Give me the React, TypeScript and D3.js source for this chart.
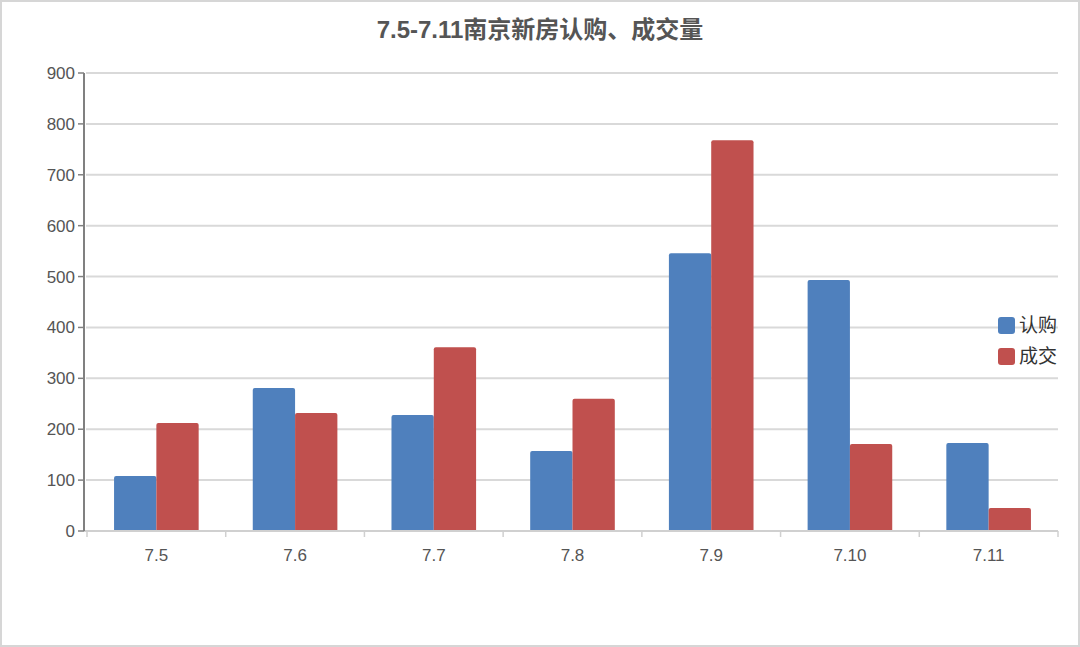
import React from 'react';
import * as d3 from 'd3';

const days: string[] = ['7.5', '7.6', '7.7', '7.8', '7.9', '7.10', '7.11'];
const subscribed: number[] = [108, 281, 228, 157, 546, 493, 173];
const closed: number[] = [212, 232, 361, 260, 768, 171, 45];
const seriesNames: string[] = ['认购', '成交'];
const seriesColors: string[] = ['#4f80bd', '#c0504e'];
const yTicks: number[] = [0, 100, 200, 300, 400, 500, 600, 700, 800, 900];

const W = 1080;
const H = 647;
const margin = { top: 73, right: 22, bottom: 116, left: 87 };
const font = '"Liberation Sans", "Noto Sans CJK SC", sans-serif';

// bar with slightly rounded top corners
function barPath(x: number, y: number, w: number, h: number, r: number) {
  const rr = Math.min(r, h / 2, w / 2);
  return `M${x},${y + h}V${y + rr}Q${x},${y} ${x + rr},${y}H${x + w - rr}Q${x + w},${y} ${x + w},${y + rr}V${y + h}Z`;
}

export default function App() {
  const innerW = W - margin.left - margin.right;
  const innerH = H - margin.top - margin.bottom;
  const x0 = margin.left;
  const yBase = margin.top + innerH;

  const xScale = d3.scaleBand<string>().domain(days).range([x0, x0 + innerW]).paddingInner(0.39).paddingOuter(0.195);
  const xSub = d3.scaleBand<number>().domain([0, 1]).range([0, xScale.bandwidth()]);
  const yScale = d3.scaleLinear().domain([0, 900]).range([yBase, margin.top]);
  const step = xScale.step();
  const series = [subscribed, closed];

  return (
    <svg width={W} height={H} style={{ position: 'absolute', left: 0, top: 0, display: 'block', background: '#fff' }}>
      <rect x={1} y={1} width={W - 2} height={H - 2} fill="#fff" stroke="#d6d6d6" strokeWidth={2} />
      <text x={540} y={38} textAnchor="middle" fontFamily={font} fontSize={24} fontWeight="bold" fill="#555">
        7.5-7.11南京新房认购、成交量
      </text>
      {yTicks.map(t => (
        <g key={t}>
          {t > 0 && <line x1={x0 - 1} x2={x0 + innerW} y1={yScale(t)} y2={yScale(t)} stroke="#d9d9d9" strokeWidth={2} />}
          <line x1={x0 - 9} x2={x0 - 3} y1={yScale(t)} y2={yScale(t)} stroke="#808080" strokeWidth={1.5} />
          <text x={x0 - 12} y={yScale(t)} dy="0.35em" textAnchor="end" fontFamily={font} fontSize={17} fill="#555">
            {t}
          </text>
        </g>
      ))}
      {days.map((d, i) =>
        series.map((s, j) => {
          const bx = (xScale(d) as number) + (xSub(j) as number);
          const by = yScale(s[i]);
          return <path key={d + j} d={barPath(bx, by, xSub.bandwidth(), yBase - by, 2)} fill={seriesColors[j]} />;
        })
      )}
      <line x1={x0 - 3} x2={x0 + innerW} y1={yBase} y2={yBase} stroke="#d0d0d0" strokeWidth={2} />
      <line x1={x0 - 3} x2={x0 - 3} y1={margin.top} y2={yBase} stroke="#808080" strokeWidth={2} />
      {d3.range(days.length + 1).map(i => (
        <line key={i} x1={x0 + i * step} x2={x0 + i * step} y1={yBase} y2={yBase + 6} stroke="#d0d0d0" strokeWidth={1.5} />
      ))}
      {days.map(d => (
        <text key={d} x={(xScale(d) as number) + xScale.bandwidth() / 2} y={561} textAnchor="middle" fontFamily={font} fontSize={17} fill="#555">
          {d}
        </text>
      ))}
      {seriesNames.map((n, j) => (
        <g key={n} transform={`translate(998, ${317 + j * 31})`}>
          <rect x={0} y={0} width={17} height={17} rx={3} fill={seriesColors[j]} />
          <text x={21} y={15} fontFamily={font} fontSize={19} fill="#333">
            {n}
          </text>
        </g>
      ))}
    </svg>
  );
}
